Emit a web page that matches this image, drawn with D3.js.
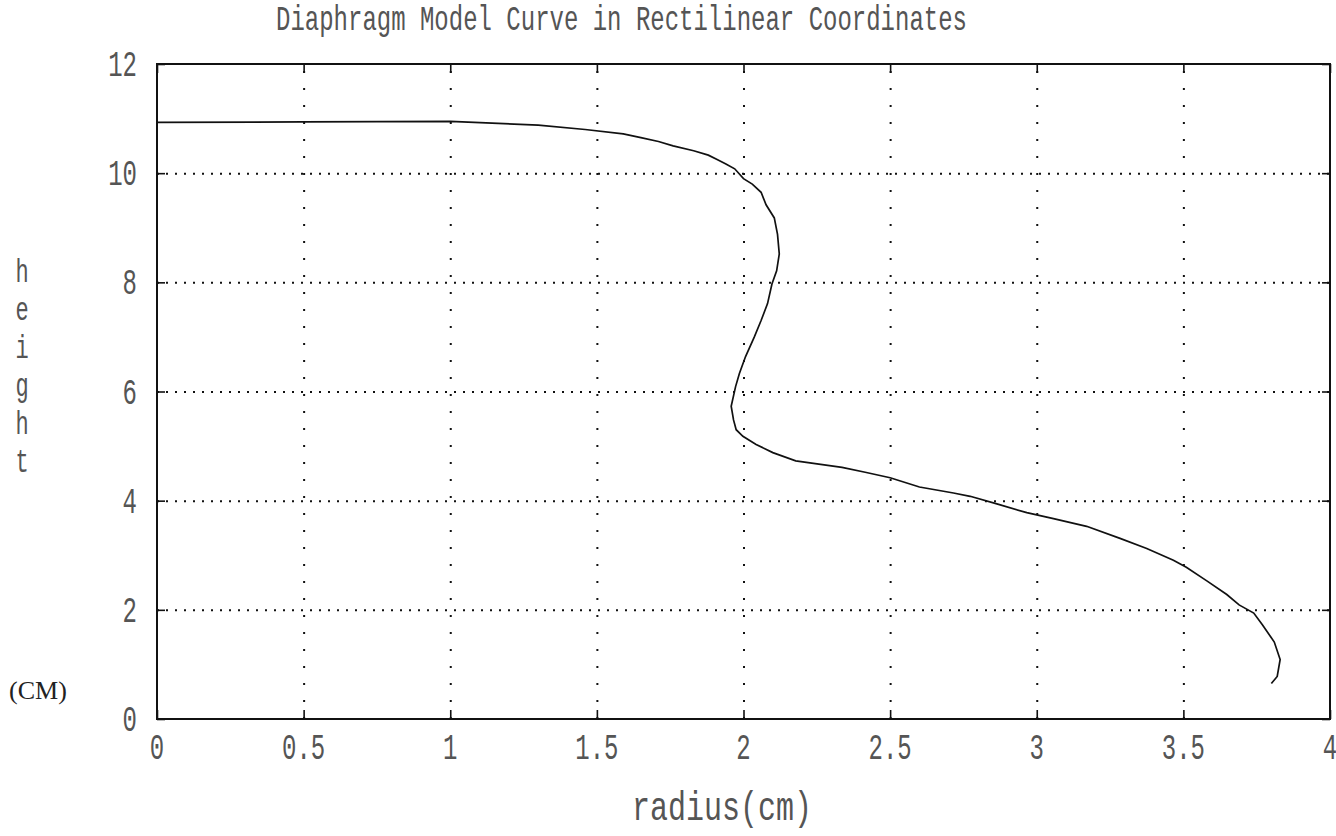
<!DOCTYPE html>
<html>
<head>
<meta charset="utf-8">
<script src="https://cdn.jsdelivr.net/npm/d3@7"></script>
<style>
  html, body { margin: 0; padding: 0; background: #fff; }
  svg { display: block; }
  text { font-family: "Liberation Mono", "DejaVu Sans Mono", monospace; fill: #555; }
</style>
</head>
<body>
<svg id="chart" width="1336" height="836"></svg>
<script>
// ---- data ----
const titleText = "Diaphragm Model Curve in Rectilinear Coordinates";
const xLabelText = "radius(cm)";
const yLabelLetters = ["h", "e", "i", "g", "h", "t"];
const yUnitText = "(CM)";
const xTicks = [0, 0.5, 1, 1.5, 2, 2.5, 3, 3.5, 4];
const xTickLabels = ["0", "0.5", "1", "1.5", "2", "2.5", "3", "3.5", "4"];
const yTicks = [0, 2, 4, 6, 8, 10, 12];
const yTickLabels = ["0", "2", "4", "6", "8", "10", "12"];
const radius = [0, 0.5, 1.0, 1.3, 1.46, 1.59, 1.65, 1.71, 1.76, 1.83, 1.88, 1.91, 1.94, 1.97,
  2.0, 2.03, 2.06, 2.077, 2.105, 2.116, 2.122, 2.113, 2.097, 2.082, 2.06, 2.037, 2.007, 1.986,
  1.973, 1.958, 1.966, 1.975, 1.998, 2.043, 2.10, 2.178, 2.257, 2.336, 2.415, 2.5, 2.60, 2.716,
  2.773, 2.864, 2.966, 3.057, 3.17, 3.284, 3.375, 3.466, 3.51, 3.58, 3.648, 3.69, 3.74, 3.77,
  3.81, 3.83, 3.82, 3.80];
const height = [10.93, 10.94, 10.95, 10.88, 10.8, 10.72, 10.65, 10.58, 10.5, 10.41, 10.33, 10.25,
  10.17, 10.08, 9.9, 9.8, 9.65, 9.42, 9.18, 8.88, 8.52, 8.21, 7.97, 7.61, 7.30, 7.0, 6.64, 6.33,
  6.09, 5.73, 5.48, 5.30, 5.18, 5.03, 4.88, 4.73, 4.67, 4.61, 4.52, 4.42, 4.25, 4.14, 4.08, 3.94,
  3.78, 3.67, 3.53, 3.31, 3.125, 2.91, 2.78, 2.53, 2.28, 2.09, 1.94, 1.72, 1.41, 1.09, 0.78, 0.65];

// ---- layout ----
const pLeft = 157, pRight = 1330, pTop = 64, pBottom = 719;
const svg = d3.select("#chart");
const x = d3.scaleLinear().domain([0, 4]).range([pLeft, pRight]);
const y = d3.scaleLinear().domain([0, 12]).range([pBottom, pTop]);

// grid lines (dotted)
const xGrid = svg.append("g").attr("transform", `translate(0,${pBottom})`)
  .call(d3.axisBottom(x).tickValues(xTicks.slice(1, -1)).tickSize(-(pBottom - pTop)).tickFormat(""));
xGrid.select(".domain").remove();
xGrid.selectAll("line").attr("stroke", "#111").attr("stroke-width", 2).attr("stroke-dasharray", "2,15");

const yGrid = svg.append("g").attr("transform", `translate(${pLeft},0)`)
  .call(d3.axisLeft(y).tickValues(yTicks.slice(1, -1)).tickSize(-(pRight - pLeft)).tickFormat(""));
yGrid.select(".domain").remove();
yGrid.selectAll("line").attr("stroke", "#111").attr("stroke-width", 2).attr("stroke-dasharray", "2,7");

// inner tick marks on all four sides
function ticks(gen, tr) {
  const g = svg.append("g").attr("transform", tr).call(gen);
  g.select(".domain").remove();
  g.selectAll("line").attr("stroke", "#111").attr("stroke-width", 1.6);
}
ticks(d3.axisBottom(x).tickValues(xTicks).tickSize(-9).tickFormat(""), `translate(0,${pBottom})`);
ticks(d3.axisTop(x).tickValues(xTicks).tickSize(-9).tickFormat(""), `translate(0,${pTop})`);
ticks(d3.axisLeft(y).tickValues(yTicks).tickSize(-8).tickFormat(""), `translate(${pLeft},0)`);
ticks(d3.axisRight(y).tickValues(yTicks).tickSize(-8).tickFormat(""), `translate(${pRight},0)`);

// frame
svg.append("rect").attr("x", pLeft).attr("y", pTop).attr("width", pRight - pLeft).attr("height", pBottom - pTop)
  .attr("fill", "none").attr("stroke", "#111").attr("stroke-width", 2);

// curve
const pts = radius.map((r, i) => [r, height[i]]);
svg.append("path").datum(pts)
  .attr("d", d3.line().x(d => x(d[0])).y(d => y(d[1])))
  .attr("fill", "none").attr("stroke", "#111").attr("stroke-width", 1.7);

// tick labels
svg.selectAll(".xl").data(xTicks).join("text").attr("class", "xl")
  .attr("transform", d => `translate(${x(d)},${pBottom + 40}) scale(1,1.55)`)
  .attr("text-anchor", "middle").attr("font-size", 24)
  .text((d, i) => xTickLabels[i]);

svg.selectAll(".yl").data(yTicks).join("text").attr("class", "yl")
  .attr("transform", d => `translate(${pLeft - 20},${y(d) + 12}) scale(1,1.55)`)
  .attr("text-anchor", "end").attr("font-size", 24)
  .text((d, i) => yTickLabels[i]);

// title
svg.append("text")
  .attr("transform", `translate(${(268 + 975) / 2},30) scale(1,1.5)`)
  .attr("text-anchor", "middle").attr("font-size", 24)
  .text(titleText);

// x axis label
svg.append("text")
  .attr("transform", `translate(722,820) scale(1,1.35)`)
  .attr("text-anchor", "middle").attr("font-size", 30)
  .text(xLabelText);

// y axis label (stacked letters)
svg.selectAll(".yll").data(yLabelLetters).join("text").attr("class", "yll")
  .attr("transform", (d, i) => `translate(22,${282 + i * 38}) scale(1,1.5)`)
  .attr("text-anchor", "middle").attr("font-size", 22)
  .text(d => d);

svg.append("text")
  .attr("x", 38).attr("y", 699)
  .attr("text-anchor", "middle")
  .style("font-family", "'Liberation Serif', serif")
  .attr("font-size", 26).style("fill", "#222")
  .text(yUnitText);
</script>
</body>
</html>
